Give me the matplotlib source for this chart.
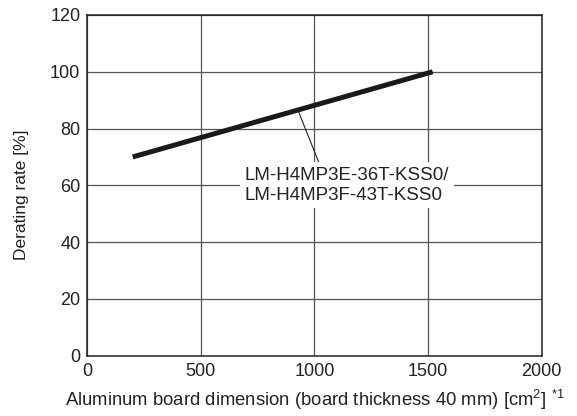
import matplotlib
matplotlib.use("Agg")
import matplotlib.pyplot as plt

# values
board_area = [200, 1520]
derating = [70, 100]
series_label = "LM-H4MP3E-36T-KSS0/\nLM-H4MP3F-43T-KSS0"
xticks = [0, 500, 1000, 1500, 2000]
yticks = [0, 20, 40, 60, 80, 100, 120]

plt.rcParams['font.family'] = ['Liberation Sans', 'DejaVu Sans']
plt.rcParams['mathtext.fontset'] = 'custom'
plt.rcParams['mathtext.rm'] = 'Liberation Sans'
plt.rcParams['mathtext.it'] = 'Liberation Sans'

fig = plt.figure(figsize=(5.77, 4.16), dpi=100)
ax = fig.add_axes([0.1513, 0.145, 0.7875, 0.819])

ax.plot(board_area, derating, color='#1a1a1a', lw=3.6, solid_capstyle='butt', zorder=3)

ax.set_xlim(0, 2000)
ax.set_ylim(0, 120)
ax.set_xticks(xticks)
ax.set_yticks(yticks)
ax.tick_params(length=0, labelsize=13, pad=5, labelcolor='#222222')
ax.grid(True, color='#555555', lw=0.9)
ax.set_axisbelow(True)
for s in ax.spines.values():
    s.set_color('#222222')
    s.set_linewidth(1.1)

# axis titles placed on the figure to match the original spacing
fig.text(22 / 577, 1 - 195 / 416, "Derating rate [%]", rotation=90,
         fontsize=12.5, ha='center', va='center', color='#222222')
fig.text(314.5 / 577, 1 - 400 / 416,
         r"Aluminum board dimension (board thickness 40 mm) [cm$^2$] $^{*1}$",
         fontsize=13.3, ha='center', va='center', color='#222222')

# leader from the line to the label
ax.annotate(series_label, xy=(927, 86.5), xytext=(694, 60),
            fontsize=13.5, ha='left', va='center', linespacing=1.2, color='#222222',
            bbox=dict(boxstyle='square,pad=0.25', fc='white', ec='none'),
            arrowprops=dict(arrowstyle='-', color='#222222', lw=0.8,
                            shrinkA=0, shrinkB=0,
                            relpos=(0.37, 1.0)),
            zorder=4)

fig.savefig("out.png", dpi=100)
